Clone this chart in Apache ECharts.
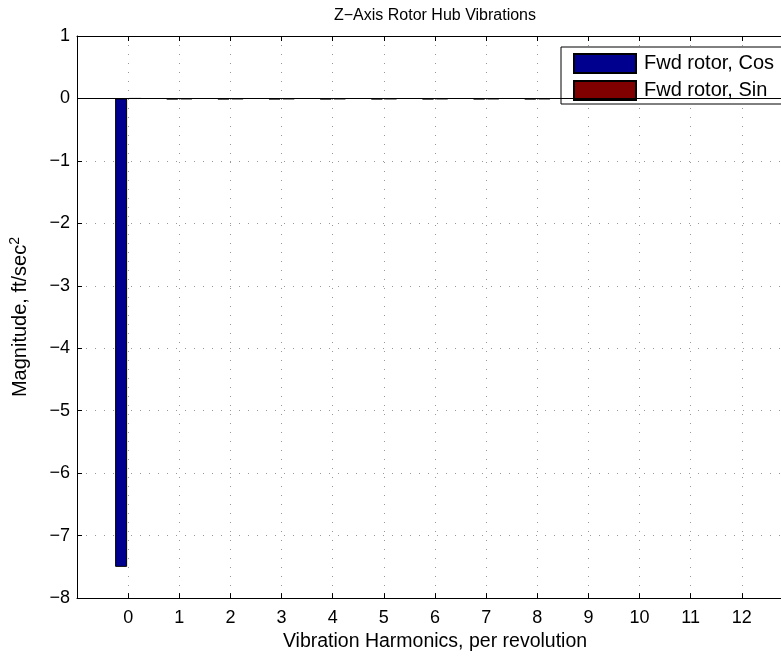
<!DOCTYPE html>
<html>
<head>
<meta charset="utf-8">
<script src="https://cdn.jsdelivr.net/npm/echarts@6/dist/echarts.min.js"></script>
<style>
  html, body { margin: 0; padding: 0; overflow: hidden; background: #fff; }
  #chart { width: 870px; height: 657px; }
</style>
</head>
<body>
<div id="chart"></div>
<script>
// harmonics 0..12 and their amplitudes
var harmonics = [0, 1, 2, 3, 4, 5, 6, 7, 8, 9, 10, 11, 12];
var cosValues = [-7.5, -0.015, -0.015, -0.015, -0.015, -0.015, -0.015, -0.015, -0.015, -0.015, -0.015, -0.015, -0.015];
var sinValues = [0, -0.01, -0.01, -0.01, -0.01, -0.01, -0.01, -0.01, -0.01, -0.01, -0.01, -0.01, -0.01];
var xTicks = [0, 1, 2, 3, 4, 5, 6, 7, 8, 9, 10, 11, 12];

var fontName = 'Liberation Sans, Arial, Helvetica, sans-serif';
var minus = function (v) { return String(v).replace('-', '\u2212'); };

var chart = echarts.init(document.getElementById('chart'));

// build [x, y] pairs for the value x axis
var cosData = harmonics.map(function (h, i) { return [h, cosValues[i]]; });
var sinData = harmonics.map(function (h, i) { return [h, sinValues[i]]; });

var dotted = { color: '#999', width: 1, type: [1, 8] };

var option = {
  animation: false,
  textStyle: { fontFamily: fontName },
  title: {
    text: 'Z\u2212Axis Rotor Hub Vibrations',
    left: 'center',
    top: 3,
    textStyle: { fontSize: 16, fontWeight: 'normal', color: '#000', fontFamily: fontName }
  },
  legend: {
    orient: 'vertical',
    left: 561,
    top: 47,
    padding: [6, 10, 3, 12],
    itemGap: 6,
    itemWidth: 62,
    itemHeight: 19,
    backgroundColor: '#fff',
    borderColor: '#000',
    borderWidth: 1,
    borderRadius: 0,
    icon: 'rect',
    textStyle: { fontSize: 20, lineHeight: 20, color: '#000', fontFamily: fontName, padding: [0, 0, 0, 3] },
    data: ['Fwd rotor, Cos', 'Fwd rotor, Sin']
  },
  grid: { left: 77, right: 77, top: 36, bottom: 51 },
  xAxis: [{
    type: 'value',
    min: -1,
    max: 13,
    interval: 1,
    name: 'Vibration Harmonics, per revolution',
    nameLocation: 'middle',
    nameGap: 29,
    nameTextStyle: { fontSize: 19.5, color: '#000', fontFamily: fontName },
    axisLine: { show: true, onZero: false, lineStyle: { color: '#000', width: 1 } },
    axisTick: { show: true, inside: true, length: 5, lineStyle: { color: '#000' } },
    axisLabel: {
      fontSize: 18, color: '#000', margin: 11,
      formatter: function (v) { return xTicks.indexOf(v) >= 0 ? minus(v) : ''; }
    },
    splitLine: { show: true, lineStyle: dotted }
  }, {
    type: 'value',
    position: 'top',
    min: -1,
    max: 13,
    interval: 1,
    axisLine: { show: true, onZero: false, lineStyle: { color: '#000', width: 1 } },
    axisTick: { show: true, inside: true, length: 5, lineStyle: { color: '#000' } },
    axisLabel: { show: false },
    splitLine: { show: false }
  }],
  yAxis: [{
    type: 'value',
    min: -8,
    max: 1,
    interval: 1,
    name: '{a|Magnitude, ft/sec}{s|2}',
    nameLocation: 'middle',
    nameRotate: 90,
    nameGap: 45,
    nameTextStyle: {
      color: '#000',
      rich: {
        a: { fontSize: 20, color: '#000', fontFamily: fontName },
        s: { fontSize: 14, color: '#000', fontFamily: fontName, verticalAlign: 'top', padding: [0, 0, 10, 0] }
      }
    },
    axisLine: { show: true, onZero: false, lineStyle: { color: '#000', width: 1 } },
    axisTick: { show: true, inside: true, length: 5, lineStyle: { color: '#000' } },
    axisLabel: { fontSize: 18, color: '#000', margin: 7, formatter: minus },
    splitLine: { show: true, lineStyle: dotted }
  }, {
    type: 'value',
    position: 'right',
    min: -8,
    max: 1,
    interval: 1,
    axisLine: { show: true, onZero: false, lineStyle: { color: '#000', width: 1 } },
    axisTick: { show: true, inside: true, length: 5, lineStyle: { color: '#000' } },
    axisLabel: { show: false },
    splitLine: { show: false }
  }],
  series: [{
    name: 'Fwd rotor, Cos',
    type: 'bar',
    data: cosData,
    barWidth: 12,
    barGap: '17%',
    itemStyle: { color: '#00008F', borderColor: '#000', borderWidth: 1 },
    markLine: {
      silent: true,
      symbol: 'none',
      label: { show: false },
      lineStyle: { color: '#000', width: 1, type: 'solid' },
      data: [{ yAxis: 0 }]
    }
  }, {
    name: 'Fwd rotor, Sin',
    type: 'bar',
    data: sinData,
    barWidth: 12,
    itemStyle: { color: '#800000', borderColor: '#000', borderWidth: 1 }
  }]
};

chart.setOption(option);
</script>
</body>
</html>
